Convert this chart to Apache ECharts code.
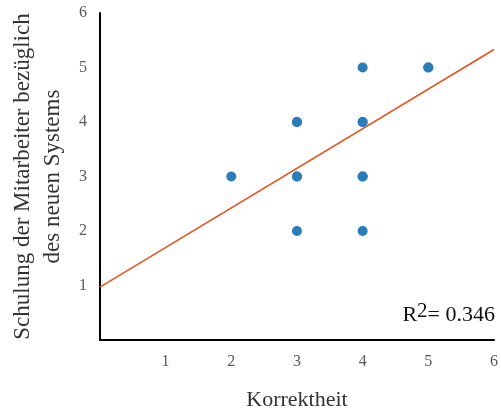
<!DOCTYPE html>
<html><head><meta charset="utf-8">
<script src="https://cdn.jsdelivr.net/npm/echarts@6/dist/echarts.min.js"></script>
<style>html,body{margin:0;padding:0;background:#fff}#c{width:501px;height:416px}</style>
</head><body><div id="c"></div>
<script>
// observations (some points repeated, drawn on top of each other)
const xValues = [2, 3, 3, 3, 3, 3, 4, 4, 4, 4, 4, 4, 5, 5];
const yValues = [3, 4, 4, 3, 3, 2, 5, 4, 4, 3, 3, 2, 5, 5];
const trendX = [0, 6];
const trendY = [0.97, 5.33];
const rSquared = '0.346';
const xName = 'Korrektheit';
const yName = 'Schulung der Mitarbeiter bezüglich\ndes neuen Systems';

const chart = echarts.init(document.getElementById('c'));
const font = '"Liberation Serif", "Times New Roman", serif';
chart.setOption({
  animation: false,
  grid: {left: 98, right: 6, top: 13, bottom: 74},
  title: {
    text: '{r|R}{s|2}{r|= ' + rSquared + '}',
    right: 1, top: 297,
    textStyle: {
      fontWeight: 'normal',
      rich: {
        r: {fontFamily: font, fontSize: 22, fontWeight: 'normal', color: '#111', verticalAlign: 'bottom', lineHeight: 24},
        s: {fontFamily: font, fontSize: 21, fontWeight: 'normal', color: '#111', verticalAlign: 'bottom', lineHeight: 24, padding: [0,0,4,0]}
      }
    }
  },
  xAxis: {
    type: 'value', min: 0, max: 6, interval: 1,
    name: xName, nameLocation: 'middle', nameGap: 49,
    nameTextStyle: {fontFamily: font, fontSize: 22, color: '#333'},
    axisLine: {lineStyle: {color: '#000', width: 2}},
    axisTick: {show: false}, splitLine: {show: false},
    axisLabel: {showMinLabel: false, fontFamily: font, fontSize: 16, color: '#595959', margin: 14}
  },
  yAxis: {
    type: 'value', min: 0, max: 6, interval: 1,
    name: yName, nameLocation: 'middle', nameGap: 28,
    nameTextStyle: {fontFamily: font, fontSize: 23, color: '#333', lineHeight: 30},
    axisLine: {show: true, lineStyle: {color: '#000', width: 2}},
    axisTick: {show: false}, splitLine: {show: false},
    axisLabel: {showMinLabel: false, fontFamily: font, fontSize: 16, color: '#595959', margin: 13}
  },
  series: [
    {
      type: 'line', data: trendX.map((x, i) => [x, trendY[i]]),
      symbol: 'none', lineStyle: {color: '#e8521f', width: 1.5}, z: 1
    },
    {
      type: 'scatter', data: xValues.map((x, i) => [x, yValues[i]]),
      symbolSize: 10, itemStyle: {color: '#2a7dbb', opacity: 1}, z: 2
    }
  ]
});
</script></body></html>
